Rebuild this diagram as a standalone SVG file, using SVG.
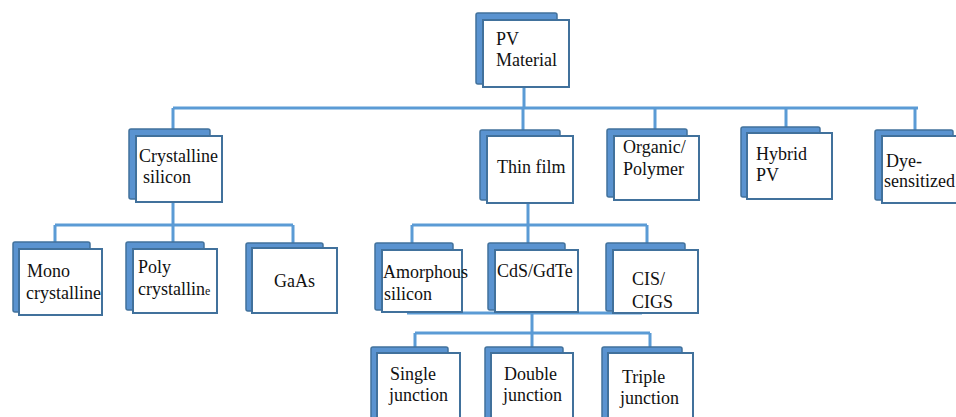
<svg xmlns="http://www.w3.org/2000/svg" width="956" height="417" viewBox="0 0 956 417">
<defs>
<style>
.c{fill:none;stroke:#5b9bd5;stroke-width:3}
.b{fill:#5a93d0;stroke:#41719c;stroke-width:1.5}
.f{fill:#ffffff;stroke:#41719c;stroke-width:2}
text{font-family:"Liberation Serif","Times New Roman",serif;font-size:18px;fill:#111111}
</style>
</defs>
<rect width="956" height="417" fill="#ffffff"/>
<g id="connectors">
<path class="c" d="M524 87V108M173 108H918M173 108V130M523 108V131M655 108V130M786 108V128M915 108V131"/>
<path class="c" d="M173 202V225M55 225H293M55 225V244M173 225V244M293 225V246"/>
<path class="c" d="M528 203V225M412 225H647M412 225V244M528 225V244M647 225V244"/>
<path class="c" d="M407 313H642M532 313V333M415 333H650M415 333V349M532 333V349M650 333V349"/>
</g>
<g id="pv"><rect class="b" x="476" y="13" width="81" height="71" rx="2"/><rect class="f" x="483" y="20" width="86" height="67"/><text x="496" y="45">PV</text><text x="496" y="66">Material</text></g>
<g id="crystalline"><rect class="b" x="129" y="129" width="81" height="70" rx="2"/><rect class="f" x="136" y="136" width="86" height="66"/><text x="139" y="162">Crystalline</text><text x="143" y="183">silicon</text></g>
<g id="thinfilm"><rect class="b" x="480" y="130" width="80" height="70" rx="2"/><rect class="f" x="487" y="136" width="86" height="67"/><text x="497" y="173">Thin film</text></g>
<g id="organic"><rect class="b" x="607" y="129" width="80" height="68" rx="2"/><rect class="f" x="614" y="136" width="85" height="64"/><text x="623" y="153">Organic/</text><text x="623" y="175">Polymer</text></g>
<g id="hybrid"><rect class="b" x="741" y="127" width="79" height="70" rx="2"/><rect class="f" x="747" y="133" width="85" height="66"/><text x="756" y="160">Hybrid</text><text x="756" y="181">PV</text></g>
<g id="dye"><rect class="b" x="875" y="130" width="78" height="70" rx="2"/><rect class="f" x="882" y="136" width="90" height="67"/><text x="886" y="167">Dye-</text><text x="884" y="187">sensitized</text></g>
<g id="mono"><rect class="b" x="13" y="242" width="77" height="70" rx="2"/><rect class="f" x="19" y="249" width="83" height="66"/><text x="27" y="277">Mono</text><text x="26" y="299">crystalline</text></g>
<g id="poly"><rect class="b" x="126" y="242" width="78" height="68" rx="2"/><rect class="f" x="133" y="249" width="84" height="64"/><text x="138" y="273">Poly</text><text x="138" y="295">crystallin<tspan font-size="12">e</tspan></text></g>
<g id="gaas"><rect class="b" x="246" y="243" width="77" height="68" rx="2"/><rect class="f" x="252" y="248" width="85" height="65"/><text x="274" y="287">GaAs</text></g>
<g id="amorphous"><rect class="b" x="375" y="243" width="78" height="67" rx="2"/><rect class="f" x="382" y="250" width="80" height="62"/><text x="383" y="278">Amorphous</text><text x="384" y="300">silicon</text></g>
<g id="cds"><rect class="b" x="488" y="243" width="77" height="67" rx="2"/><rect class="f" x="495" y="250" width="83" height="62"/><text x="497" y="277">CdS/GdTe</text></g>
<g id="cis"><rect class="b" x="606" y="243" width="79" height="68" rx="2"/><rect class="f" x="613" y="250" width="85" height="63"/><text x="632" y="285">CIS/</text><text x="632" y="308">CIGS</text></g>
<g id="single"><rect class="b" x="371" y="347" width="77" height="80" rx="2"/><rect class="f" x="377" y="353" width="83" height="80"/><text x="390" y="380">Single</text><text x="389" y="401">junction</text></g>
<g id="double"><rect class="b" x="485" y="347" width="78" height="80" rx="2"/><rect class="f" x="491" y="353" width="82" height="80"/><text x="504" y="380">Double</text><text x="503" y="401">junction</text></g>
<g id="triple"><rect class="b" x="602" y="347" width="80" height="80" rx="2"/><rect class="f" x="608" y="353" width="85" height="80"/><text x="622" y="383">Triple</text><text x="620" y="404">junction</text></g>
</svg>
